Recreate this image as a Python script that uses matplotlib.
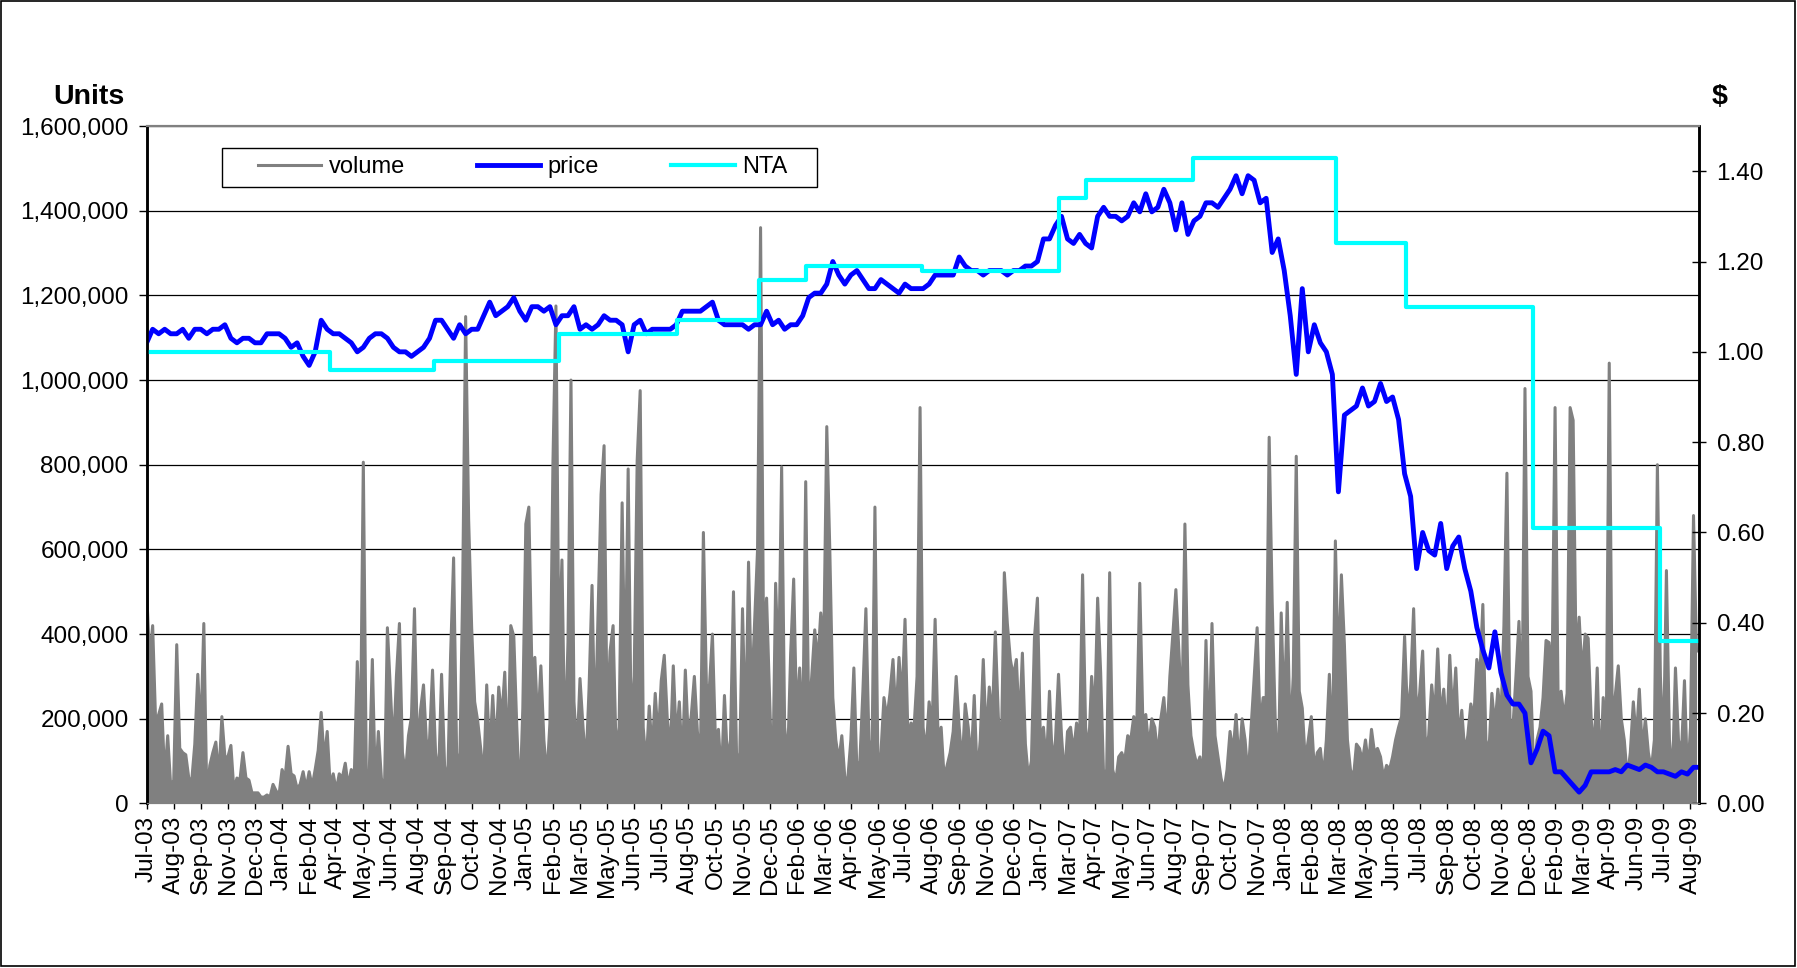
import numpy as np
import matplotlib.pyplot as plt
from matplotlib.ticker import FuncFormatter
from matplotlib.patches import Rectangle

plt.rcParams['font.family'] = ['Liberation Sans', 'DejaVu Sans']

# daily volume, read every 3rd trading day (thousands of units)
volume_k = [
    500, 340, 420, 190, 210, 235, 60, 160, 40, 55, 375, 130, 120, 115, 60, 55, 140, 305, 160, 425,
    15, 90, 120, 145, 60, 205, 110, 110, 137, 30, 60, 55, 120, 60, 55, 25, 25, 25, 15, 15,
    20, 15, 45, 30, 20, 80, 60, 135, 70, 65, 35, 45, 75, 35, 75, 40, 80, 125, 215, 100,
    170, 40, 70, 30, 70, 60, 95, 40, 80, 65, 335, 120, 806, 60, 80, 340, 40, 170, 60, 20,
    415, 270, 120, 300, 425, 120, 70, 160, 205, 460, 120, 220, 280, 140,
    150, 315, 120, 60, 305, 90, 40, 350, 580, 120, 70, 500, 1150, 670, 415, 240, 195, 130, 60, 280,
    110, 255, 120, 275, 200, 310, 90, 420, 395, 180, 0, 225, 660, 700, 320, 345, 180, 325, 150, 60,
    190, 800, 1175, 350, 575, 120, 380, 1000, 240, 120, 295, 180, 90, 270, 515, 150, 450, 730, 845, 200,
    360, 420, 120, 180, 710, 250, 790, 180, 300, 810, 975, 180, 90, 230, 120, 260, 150, 290, 350, 200,
    120, 325, 150, 240, 90, 315, 150, 210, 300, 170, 100, 640, 280,
    275, 400, 150, 175, 60, 255, 100, 150, 500, 120, 80, 460, 150, 570, 250, 425, 600, 1360, 375, 485,
    250, 25, 520, 300, 795, 180, 100, 355, 530, 200, 320, 150, 760, 200, 300, 410, 330, 450, 375, 890,
    600, 250, 150, 100, 160, 60, 60, 150, 320, 80, 100, 265, 460, 150, 100, 700, 90, 120, 250, 200,
    260, 340, 200, 345, 240, 435, 150, 190, 180, 300, 935, 180, 120, 240, 180, 435, 150, 180, 60, 90,
    120, 170, 300, 180, 90, 235, 180, 100, 255, 60, 150, 340, 150, 275,
    200, 405, 205, 120, 545, 425, 340, 300, 340, 180, 355, 140, 60, 100, 390, 485, 140, 180, 90, 265,
    90, 150, 305, 160, 60, 170, 180, 120, 190, 150, 540, 180, 120, 300, 200, 485, 310, 60, 80, 545,
    80, 50, 110, 120, 100, 160, 150, 205, 180, 520, 200, 210, 130, 200, 180, 110, 200, 250, 150, 300,
    400, 505, 360, 200, 660, 280, 160, 120, 90, 110, 60, 385, 120, 425, 160, 110, 60, 30, 80, 170,
    120, 210, 90, 200, 150, 60, 180, 295, 415, 180, 250, 250,
    865, 475, 200, 60, 450, 200, 475, 150, 300, 820, 265, 225, 100, 150, 205, 80, 120, 130, 60, 150,
    305, 110, 620, 300, 540, 375, 150, 80, 60, 140, 130, 100, 150, 90, 175, 120, 130, 110, 60, 90,
    80, 110, 150, 180, 205, 395, 200, 280, 460, 200, 260, 360, 120, 160, 280, 200, 365, 200, 270, 160,
    350, 200, 320, 150, 220, 120, 160, 235, 200, 340, 300, 470, 150, 120, 260, 180, 270, 200, 420, 780,
    200, 180, 300, 430, 200, 980, 300, 265, 60, 150, 180, 250, 385,
    380, 300, 935, 250, 265, 200, 260, 935, 905, 330, 440, 300, 400, 390, 200, 120, 320, 60, 250, 150,
    1040, 200, 255, 325, 200, 150, 60, 120, 240, 150, 270, 120, 200, 120, 80, 150, 800, 300, 120, 550,
    150, 60, 320, 150, 120, 290, 60, 180, 680, 360,
]

# unit price, read every 6th trading day ($)
price = [
    1.02, 1.05, 1.04, 1.05, 1.04, 1.04, 1.05, 1.03, 1.05, 1.05, 1.04, 1.05, 1.05, 1.06, 1.03, 1.02,
    1.03, 1.03, 1.02, 1.02, 1.04, 1.04, 1.04, 1.03, 1.01, 1.02, 0.99, 0.97, 1.00, 1.07, 1.05, 1.04,
    1.04, 1.03, 1.02, 1.00, 1.01, 1.03, 1.04, 1.04, 1.03, 1.01, 1.00, 1.00, 0.99, 1.00, 1.01, 1.03,
    1.07, 1.07, 1.05, 1.03, 1.06, 1.04, 1.05, 1.05, 1.08, 1.11, 1.08, 1.09, 1.10, 1.12, 1.09, 1.07,
    1.10, 1.10, 1.09, 1.10, 1.06, 1.08, 1.08, 1.10, 1.05, 1.06, 1.05, 1.06, 1.08, 1.07, 1.07, 1.06,
    1.00, 1.06, 1.07, 1.04, 1.05, 1.05, 1.05, 1.05, 1.06, 1.09, 1.09, 1.09, 1.09, 1.10,
    1.11, 1.07, 1.06, 1.06, 1.06, 1.06, 1.05, 1.06, 1.06, 1.09, 1.06, 1.07, 1.05, 1.06, 1.06, 1.08,
    1.12, 1.13, 1.13, 1.15, 1.20, 1.17, 1.15, 1.17, 1.18, 1.16, 1.14, 1.14, 1.16, 1.15, 1.14, 1.13,
    1.15, 1.14, 1.14, 1.14, 1.15, 1.17, 1.17, 1.17, 1.17, 1.21, 1.19, 1.18, 1.18, 1.17, 1.18,
    1.18, 1.18, 1.17, 1.18, 1.18, 1.19, 1.19, 1.20, 1.25, 1.25, 1.28, 1.30, 1.25, 1.24, 1.26, 1.24,
    1.23, 1.30, 1.32, 1.30, 1.30, 1.29, 1.30, 1.33, 1.31, 1.35, 1.31, 1.32, 1.36, 1.33, 1.27, 1.33,
    1.26, 1.29, 1.30, 1.33, 1.33, 1.32, 1.34, 1.36, 1.39, 1.35, 1.39, 1.38, 1.33, 1.34, 1.22,
    1.25, 1.18, 1.08, 0.95, 1.14, 1.00, 1.06, 1.02, 1.00, 0.95, 0.69, 0.86, 0.87, 0.88, 0.92, 0.88,
    0.89, 0.93, 0.89, 0.90, 0.85, 0.73, 0.68, 0.52, 0.60, 0.56, 0.55, 0.62, 0.52, 0.57, 0.59, 0.52,
    0.47, 0.39, 0.34, 0.30, 0.38, 0.29, 0.24, 0.22, 0.22, 0.20, 0.09, 0.12, 0.16, 0.15,
    0.07, 0.07, 0.055, 0.04, 0.025, 0.04, 0.07, 0.07, 0.07, 0.07, 0.075, 0.07, 0.085, 0.08, 0.075,
    0.085, 0.08, 0.07, 0.07, 0.065, 0.06, 0.07, 0.065, 0.08, 0.08,
]

# NTA per unit and the trading day each value starts
nta_day = [0, 183, 286, 411, 529, 610, 657, 773, 909, 936, 1043, 1186, 1255, 1382, 1509]
nta = [1.00, 0.96, 0.98, 1.04, 1.07, 1.16, 1.19, 1.18, 1.34, 1.38, 1.43, 1.24, 1.10, 0.61, 0.36]

month_labels = ['Jul-03', 'Aug-03', 'Sep-03', 'Nov-03', 'Dec-03', 'Jan-04', 'Feb-04', 'Apr-04',
                'May-04', 'Jun-04', 'Aug-04', 'Sep-04', 'Oct-04', 'Nov-04', 'Jan-05', 'Feb-05',
                'Mar-05', 'May-05', 'Jun-05', 'Jul-05', 'Aug-05', 'Oct-05', 'Nov-05', 'Dec-05',
                'Feb-06', 'Mar-06', 'Apr-06', 'May-06', 'Jul-06', 'Aug-06', 'Sep-06', 'Nov-06',
                'Dec-06', 'Jan-07', 'Mar-07', 'Apr-07', 'May-07', 'Jun-07', 'Aug-07', 'Sep-07',
                'Oct-07', 'Nov-07', 'Jan-08', 'Feb-08', 'Mar-08', 'May-08', 'Jun-08', 'Jul-08',
                'Sep-08', 'Oct-08', 'Nov-08', 'Dec-08', 'Feb-09', 'Mar-09', 'Apr-09', 'Jun-09',
                'Jul-09', 'Aug-09']

n_days = 1548
label_step = 27

vol_x = np.arange(len(volume_k)) * 3
vol = np.array(volume_k) * 1000
price_x = np.arange(len(price)) * 6
nta_x = nta_day + [n_days - 1]
nta_y = nta + [nta[-1]]

fig = plt.figure(figsize=(17.97, 9.68), dpi=100)
ax = fig.add_axes([0.0816, 0.1700, 0.8636, 0.6998])
ax2 = ax.twinx()

# the daily line is so dense in the original that it reads as a filled mass
ax.fill_between(vol_x, vol, color='#808080', lw=0)
vol_line, = ax.plot(vol_x, vol, color='#808080', lw=2.2, label='volume')
price_line, = ax2.plot(price_x, price, color='#0000FF', lw=3.5, label='price')
nta_line, = ax2.step(nta_x, nta_y, where='post', color='#00FFFF', lw=3.0, label='NTA')

ax.set_xlim(0, n_days - 1)
ax.set_ylim(0, 1600000)
ax2.set_ylim(0, 1.5)
ax.set_yticks(np.arange(0, 1600001, 200000))
ax2.set_yticks(np.arange(0, 1.41, 0.2))
ax.yaxis.set_major_formatter(FuncFormatter(lambda v, p: f'{v:,.0f}'))
ax2.yaxis.set_major_formatter(FuncFormatter(lambda v, p: f'{v:.2f}'))

ax.set_xticks(np.arange(len(month_labels)) * label_step)
ax.set_xticklabels(month_labels, rotation=90, ha='center', va='top')

ax.yaxis.grid(True, color='black', lw=0.9)
ax.set_axisbelow(True)

ax.tick_params(axis='x', direction='out', length=4, width=1, pad=5, labelsize=17.5)
ax.tick_params(axis='y', direction='out', length=6, width=1, pad=7, labelsize=17.5)
ax2.tick_params(axis='y', direction='inout', length=10, width=1, pad=8, labelsize=17.5)

for a in (ax, ax2):
    a.spines['top'].set_color('#808080')
    a.spines['top'].set_linewidth(1.5)
    a.spines['bottom'].set_color('#808080')
    a.spines['left'].set_linewidth(1.8)
    a.spines['right'].set_linewidth(1.8)

# legend box drawn separately so the padding matches
ax2.add_patch(Rectangle((0.0485, 0.910), 0.3834, 0.0576, transform=ax2.transAxes,
                        fill=False, edgecolor='black', lw=1.0, zorder=5))
ax2.legend([vol_line, price_line, nta_line], ['volume', 'price', 'NTA'], ncol=3,
           loc='center', bbox_to_anchor=(0.2421, 0.9388), frameon=False, fontsize=17,
           handlelength=2.7, handletextpad=0.3, columnspacing=3.05, borderpad=0,
           borderaxespad=0)

fig.text(124 / 1797, 1 - 97.4 / 968, 'Units', ha='right', va='center',
         fontsize=20.5, fontweight='bold')
fig.text(1720 / 1797, 1 - 97.4 / 968, '$', ha='center', va='center',
         fontsize=20.5, fontweight='bold')

fig.patches.append(Rectangle((1 / 1797, 2 / 968), 1794 / 1797, 965 / 968,
                             transform=fig.transFigure, fill=False,
                             edgecolor='black', lw=1.2))

fig.savefig('out.png', dpi=100)
